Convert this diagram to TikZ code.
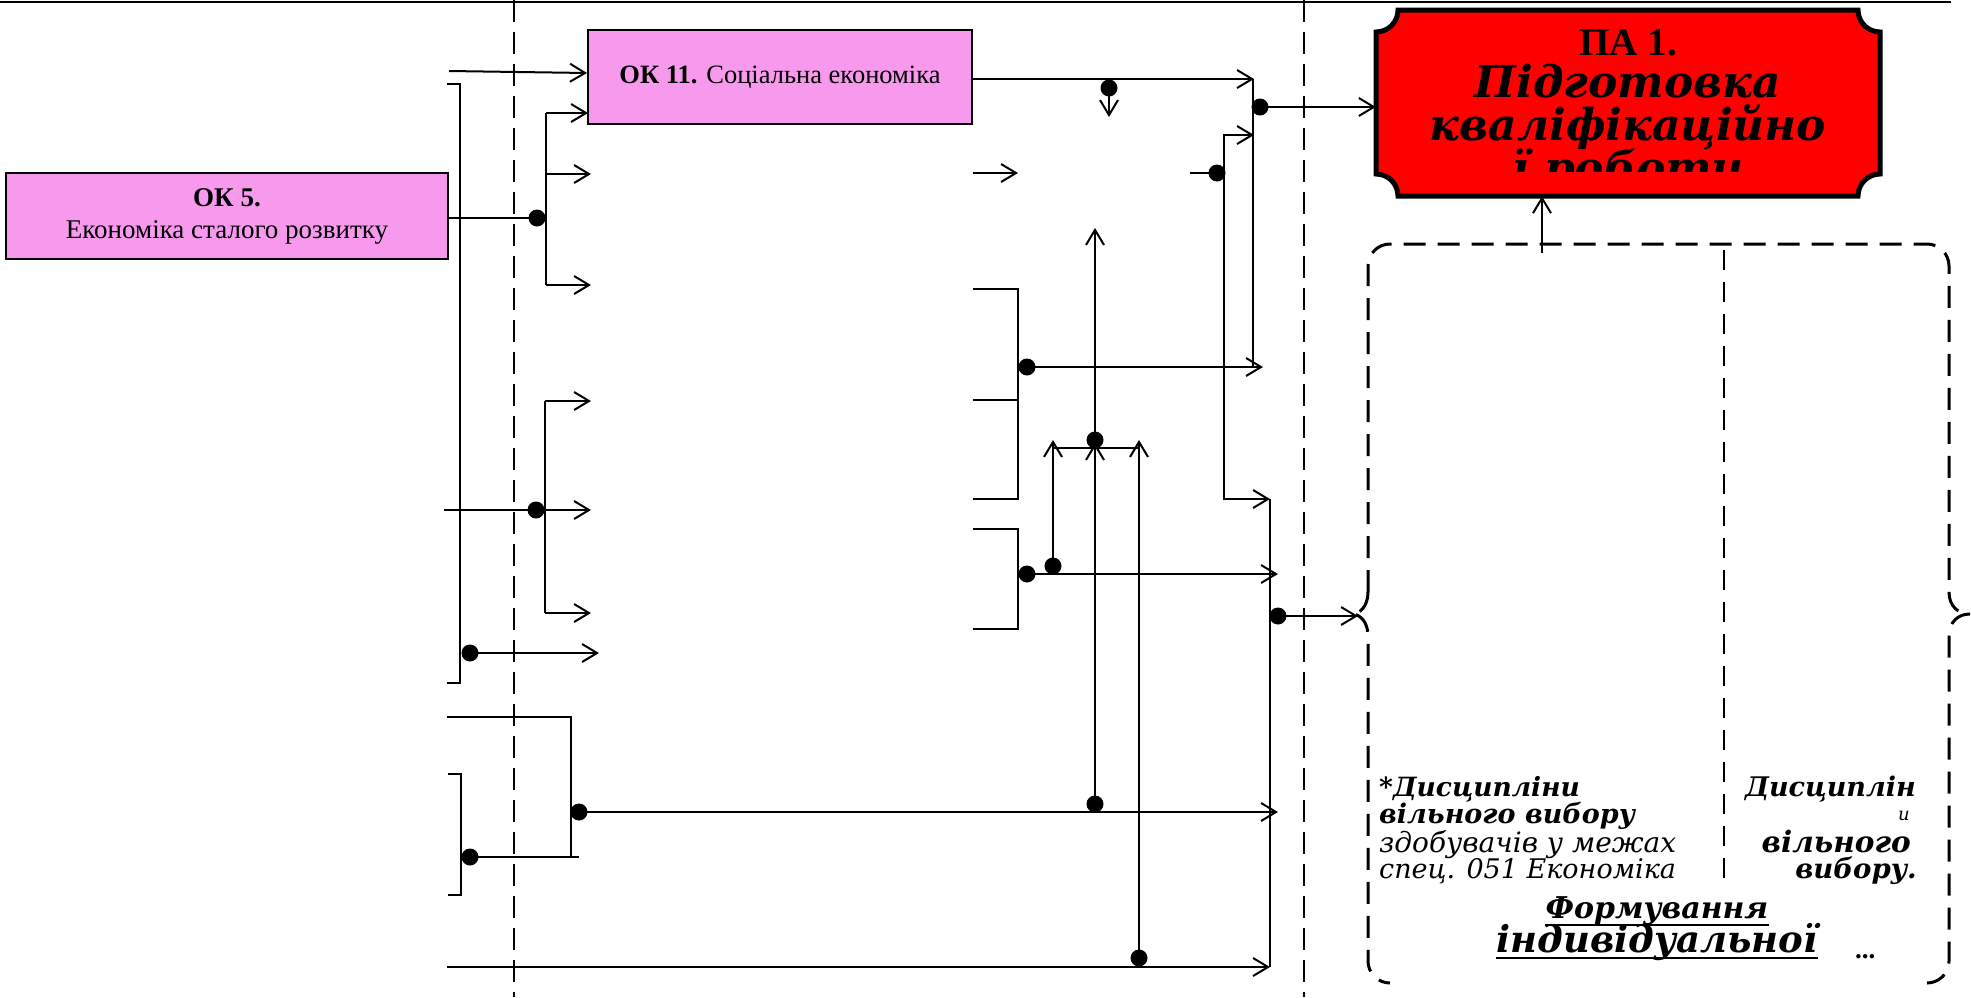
\documentclass[tikz,border=0pt]{standalone}
\usepackage{fontspec}
\setmainfont{Liberation Serif}
\newfontfamily\djs{DejaVu Serif}
\usetikzlibrary{arrows.meta}
\definecolor{okpink}{HTML}{F799EC}
\definecolor{pared}{HTML}{FF0000}
\begin{document}
\begin{tikzpicture}[x=1pt,y=-1pt,
  ln/.style={line width=2pt},
  arr/.style={line width=2pt,-{Straight Barb[length=15pt,width=18pt]}},
  dot/.style={circle,fill=black,inner sep=0pt,minimum size=17pt},
  sepline/.style={line width=2.5pt,dash pattern=on 22pt off 10pt},
  bracestyle/.style={line width=3pt,dash pattern=on 22pt off 12pt},
  okbox/.style={draw,fill=okpink,line width=2pt,inner sep=0pt,align=center},
  txt/.style={inner sep=0pt},
  bi/.style={font=\fontsize{#1}{#1}\selectfont\djs\bfseries\itshape},
  it/.style={font=\fontsize{#1}{#1}\selectfont\djs\itshape},
]
\useasboundingbox (0,0) rectangle (1971,997);

% top rule and separators
\coordinate (topL) at (0,1.5);
\coordinate (topR) at (1951,1.5);
\draw[ln] (topL) -- (topR);
\coordinate (s1t) at (514,0); \coordinate (s1b) at (514,997);
\coordinate (s2t) at (1304,0); \coordinate (s2b) at (1304,997);
\draw[sepline] (s1t) -- (s1b);
\draw[sepline] (s2t) -- (s2b);

% boxes
\node[okbox,minimum width=442pt,minimum height=86pt,font=\fontsize{27}{32}\selectfont] (ok5) at (227,216)
  {\textbf{ОК 5.}\\Економіка сталого розвитку};
\node[okbox,minimum width=384pt,minimum height=94pt,font=\fontsize{26.5}{30}\selectfont] (ok11) at (780,77)
  {\textbf{ОК 11.} Соціальна економіка};

\node[minimum width=504pt,minimum height=186pt,inner sep=0pt] (pa) at (1628,103) {};
\draw[line width=5pt,fill=pared] (1398,10) -- (1858,10) arc[start angle=180,end angle=90,radius=22]
  -- (1880,174) arc[start angle=270,end angle=180,radius=22]
  -- (1398,196) arc[start angle=0,end angle=-90,radius=22]
  -- (1376,32) arc[start angle=90,end angle=0,radius=22] -- cycle;
\begin{scope}
\clip (1380,12) rectangle (1876,171);
\node[txt,anchor=base,font=\fontsize{39}{39}\selectfont\bfseries] (pa1) at (1628,55) {ПА 1.};
\node[txt,anchor=base,bi=44] (pa2) at (1628,97) {Підготовка};
\node[txt,anchor=base,bi=44] (pa3) at (1628,140) {кваліфікаційно};
\node[txt,anchor=base,bi=44] (pa4) at (1628,183) {ї роботи};
\end{scope}

% ---------- left connectors ----------
\coordinate (inA) at (449,71);
\draw[arr] (inA) -- (ok11.west |- 0,73);

\coordinate (brA1) at (447,84); \coordinate (brA2) at (447,683);
\draw[ln] (brA1) -- (460,84) -- (460,683) -- (brA2);
\node[dot] (dA) at (470,653) {};
\coordinate (eA) at (599,653);
\draw[arr] (dA.center) -- (eA);

\node[dot] (dB) at (537,218) {};
\draw[ln] (ok5.east |- dB) -- (dB.center);
\coordinate (eB1) at (588,113); \coordinate (eB2) at (591,174); \coordinate (eB3) at (591,285);
\draw[ln] (546,113) -- (546,285);
\draw[arr] (546,113) -- (eB1);
\draw[arr] (546,174) -- (eB2);
\draw[arr] (546,285) -- (eB3);

\coordinate (sC) at (444,510);
\node[dot] (dC) at (536,510) {};
\coordinate (eC1) at (591,401); \coordinate (eC2) at (591,510); \coordinate (eC3) at (591,613);
\draw[ln] (sC) -- (dC.center);
\draw[ln] (545,401) -- (545,613);
\draw[arr] (545,401) -- (eC1);
\draw[arr] (dC.center) -- (eC2);
\draw[arr] (545,613) -- (eC3);

% bottom-left
\coordinate (brD1) at (448,774); \coordinate (brD2) at (448,895);
\draw[ln] (brD1) -- (461,774) -- (461,895) -- (brD2);
\node[dot] (dD) at (470,857) {};
\coordinate (sE) at (447,717);
\draw[ln] (dD.center) -- (579,857);
\draw[ln] (sE) -- (571,717) -- (571,857);
\node[dot] (dE) at (579,812) {};
\coordinate (eE) at (1278,812);
\draw[arr] (dE.center) -- (eE);
\coordinate (sF) at (447,967); \coordinate (eF) at (1270,967);
\draw[arr] (sF) -- (eF);

% ---------- middle connectors ----------
\coordinate (eOK11) at (1254,79);
\draw[arr] (ok11.east |- eOK11) -- (eOK11);
\node[dot] (dF) at (1109,88) {};
\coordinate (eF2) at (1109,117);
\draw[arr] (dF.center) -- (eF2);
\coordinate (eS) at (1018,173);
\draw[arr] (ok11.east |- eS) -- (eS);
\coordinate (stubG) at (1190,173);
\node[dot] (dG) at (1217,173) {};
\draw[ln] (stubG) -- (dG.center);
\coordinate (eG1) at (1254,135); \coordinate (eG2) at (1270,499);
\draw[arr] (1224,173) -- (1224,135) -- (eG1);
\draw[arr] (1224,173) -- (1224,499) -- (eG2);
\draw[ln] (1253,79) -- (1253,367);
\node[dot] (dH) at (1260,107) {};
\draw[arr] (dH.center) -- (pa.west |- dH);

\coordinate (brI1) at (973,289); \coordinate (brI2) at (973,499); \coordinate (brI3) at (973,400);
\draw[ln] (brI1) -- (1018,289) -- (1018,499) -- (brI2);
\draw[ln] (brI3) -- (1018,400);
\node[dot] (dI) at (1027,367) {};
\coordinate (eI) at (1263,367);
\draw[arr] (dI.center) -- (eI);

\coordinate (brJ1) at (973,529); \coordinate (brJ2) at (973,629);
\draw[ln] (brJ1) -- (1018,529) -- (1018,629) -- (brJ2);
\node[dot] (dJ) at (1027,574) {};
\coordinate (eJ) at (1278,574);
\draw[arr] (dJ.center) -- (eJ);

\node[dot] (dK) at (1053,566) {};
\coordinate (eK) at (1053,440);
\draw[arr] (dK.center) -- (eK);
\draw[ln] (1053,448) -- (1139,448);
\node[dot] (dL) at (1139,958) {};
\coordinate (eL) at (1139,440);
\draw[arr] (dL.center) -- (eL);
\node[dot] (dM) at (1095,804) {};
\coordinate (eM) at (1095,443);
\draw[arr] (dM.center) -- (eM);
\node[dot] (dN) at (1095,440) {};
\coordinate (eN) at (1095,228);
\draw[arr] (dN.center) -- (eN);

\draw[ln] (1270,499) -- (1270,967);
\node[dot] (dO) at (1278,616) {};
\coordinate (eO) at (1358,616);
\draw[arr] (dO.center) -- (eO);

\coordinate (sP) at (1542,253);
\draw[arr] (sP) -- (pa.south -| sP);

% ---------- dashed brace box ----------
\draw[bracestyle] (1368,592) -- (1368,266) arc[start angle=180,end angle=270,radius=22]
  -- (1927,244) arc[start angle=270,end angle=360,radius=22]
  -- (1949,592) .. controls (1949,606) and (1958,614) .. (1970,614)
  .. controls (1958,614) and (1949,622) .. (1949,636)
  -- (1949,961) arc[start angle=0,end angle=90,radius=22];
\draw[bracestyle] (1368,592) .. controls (1368,606) and (1360,614) .. (1352,614)
  .. controls (1360,614) and (1368,622) .. (1368,636)
  -- (1368,961) arc[start angle=180,end angle=90,radius=22];
\coordinate (divT) at (1724,250); \coordinate (divB) at (1724,886);
\draw[line width=2.5pt,dash pattern=on 20pt off 12pt] (divT) -- (divB);

% texts in box
\node[txt,anchor=base west,bi=26.5] (t1) at (1379,796) {*Дисципліни};
\node[txt,anchor=base west,bi=27] (t2) at (1379,823) {вільного вибору};
\node[txt,anchor=base west,it=28] (t3) at (1379,852) {здобувачів у межах};
\node[txt,anchor=base west,it=27] (t4) at (1379,878) {спец. 051 Економіка};

\node[txt,anchor=base east,bi=27] (r1) at (1916,796) {Дисциплін};
\node[txt,anchor=base east,it=18] (r2) at (1910,820) {и};
\node[txt,anchor=base east,bi=29.5] (r3) at (1911,852) {вільного};
\node[txt,anchor=base east,bi=27.5] (r4) at (1917,878) {вибору.};

\begin{scope}
\clip (1372,893) rectangle (1945,966);
\node[txt,anchor=base,bi=30] (f1) at (1657,918) {Формування};
\draw[line width=1.5pt] ([yshift=-7pt]f1.base west) -- ([yshift=-7pt]f1.base east);
\node[txt,anchor=base,bi=37] (f2) at (1657,952) {індивідуальної};
\draw[line width=1.5pt] ([yshift=-6pt]f2.base west) -- ([yshift=-6pt]f2.base east);
\end{scope}
\node[txt,anchor=base west,font=\fontsize{27}{27}\selectfont\bfseries] (dots) at (1855,958) {...};

\end{tikzpicture}
\end{document}
